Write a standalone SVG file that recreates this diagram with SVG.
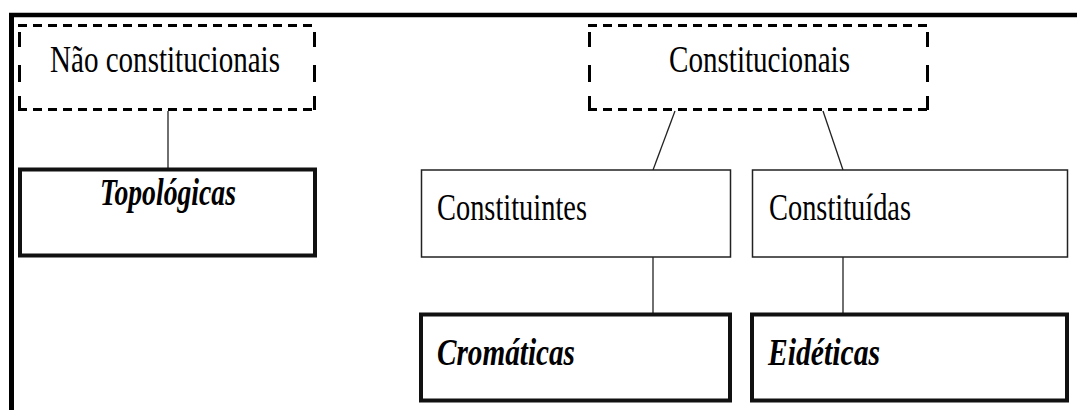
<svg xmlns="http://www.w3.org/2000/svg" width="1077" height="410" viewBox="0 0 1077 410">
  <style>
    .txt { font-family: "Liberation Serif", "DejaVu Serif", "Times New Roman", serif; font-size: 37px; fill: #000; }
    .it { font-style: italic; font-weight: bold; }
    .dash-h { stroke: #000; stroke-width: 3; stroke-dasharray: 9 6; fill: none; }
    .dash-v { stroke: #000; stroke-width: 3; fill: none; }
    .thin { fill: #fff; stroke: #222; stroke-width: 1.5; }
    .thick { fill: #fff; stroke: #111; stroke-width: 4; }
    .conn { stroke: #222; stroke-width: 1.3; fill: none; }
  </style>
  <defs>
    <!-- vertical side of a dashed box: three long dashes between y=24 and y=111 -->
    <path id="vside" d="M0 32 V47 M0 65 V82 M0 96 V110" />
  </defs>

  <rect width="1077" height="410" fill="#fff" />

  <!-- page frame: heavy rule along top and left -->
  <g id="frame">
    <line x1="9" y1="15" x2="1077" y2="15" stroke="#000" stroke-width="4.5" />
    <line x1="11.5" y1="13" x2="11.5" y2="410" stroke="#000" stroke-width="5" />
  </g>

  <!-- connectors -->
  <g id="connectors">
    <line class="conn" x1="168" y1="111" x2="168" y2="168" />
    <line class="conn" x1="675" y1="111" x2="653" y2="170" />
    <line class="conn" x1="823" y1="111" x2="843" y2="170" />
    <line class="conn" x1="653" y1="257" x2="653" y2="313" />
    <line class="conn" x1="843" y1="257" x2="843" y2="313" />
  </g>

  <g id="nao-constitucionais">
    <line class="dash-h" x1="18" y1="25.5" x2="316" y2="25.5" />
    <line class="dash-h" x1="18" y1="109.5" x2="316" y2="109.5" />
    <use href="#vside" class="dash-v" x="19.5" />
    <use href="#vside" class="dash-v" x="314.5" />
    <text class="txt" x="50" y="72" textLength="230" lengthAdjust="spacingAndGlyphs">Não constitucionais</text>
  </g>

  <g id="constitucionais">
    <line class="dash-h" x1="588" y1="25.5" x2="929" y2="25.5" />
    <line class="dash-h" x1="588" y1="109.5" x2="929" y2="109.5" />
    <use href="#vside" class="dash-v" x="589.5" />
    <use href="#vside" class="dash-v" x="927.5" />
    <text class="txt" x="669" y="72" textLength="181" lengthAdjust="spacingAndGlyphs">Constitucionais</text>
  </g>

  <g id="topologicas">
    <rect class="thick" x="20" y="169.5" width="295" height="86" />
    <text class="txt it" x="100" y="205" textLength="136" lengthAdjust="spacingAndGlyphs">Topológicas</text>
  </g>

  <g id="constituintes">
    <rect class="thin" x="421.5" y="170" width="309" height="87" />
    <text class="txt" x="437" y="220" textLength="150" lengthAdjust="spacingAndGlyphs">Constituintes</text>
  </g>

  <g id="constituidas">
    <rect class="thin" x="752.5" y="170" width="315" height="87" />
    <text class="txt" x="769" y="220" textLength="142" lengthAdjust="spacingAndGlyphs">Constituídas</text>
  </g>

  <g id="cromaticas">
    <rect class="thick" x="421" y="314.5" width="309" height="86" />
    <text class="txt it" x="437" y="365" textLength="138" lengthAdjust="spacingAndGlyphs">Cromáticas</text>
  </g>

  <g id="eideticas">
    <rect class="thick" x="752" y="314.5" width="315" height="86" />
    <text class="txt it" x="768" y="365" textLength="112" lengthAdjust="spacingAndGlyphs">Eidéticas</text>
  </g>
</svg>
